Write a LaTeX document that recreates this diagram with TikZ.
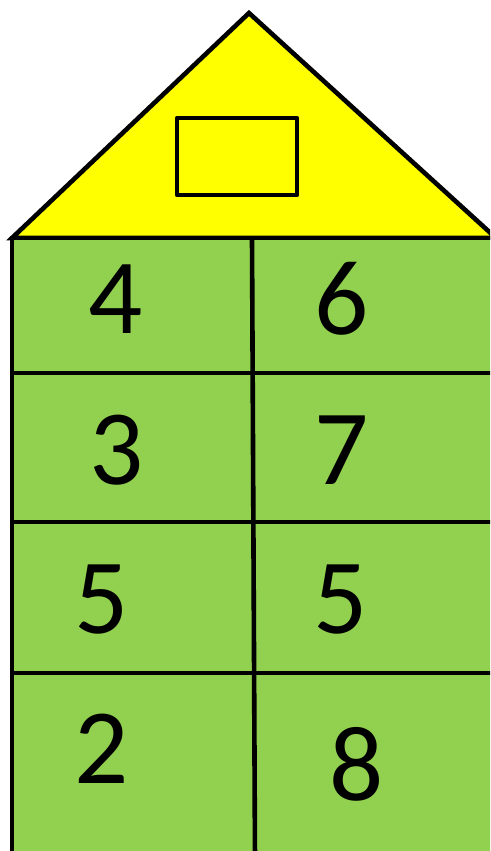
\documentclass[tikz,border=0pt]{standalone}
\usepackage{fontspec}
\setmainfont{Carlito}
\definecolor{wallgreen}{HTML}{92D050}
\definecolor{roofyellow}{HTML}{FFFF00}
\tikzset{
  line/.style={line width=4.6pt, draw=black},
  digit/.style={inner sep=0pt, font=\fontsize{107}{107}\selectfont},
}
\begin{document}
\begin{tikzpicture}[x=1pt,y=-1pt]
\useasboundingbox (0,0) rectangle (490,851);
\begin{scope}
\clip (0,0) rectangle (490,851);
% roof
\draw[line, fill=roofyellow, line join=miter] (249,13) -- (496,238) -- (12,238) -- cycle;
\draw[line, fill=roofyellow, line join=round] (177,118) rectangle (297,195);
% wall
\fill[wallgreen] (12,238) rectangle (500,860);
\draw[line] (12,238) -- (12,860);
\draw[line] (10,238) -- (500,238);
\draw[line] (12,373) -- (500,373);
\draw[line] (12,522) -- (500,522);
\draw[line] (12,673) -- (500,673);
\draw[line] (252,238) -- (255,860);
\end{scope}
% digits
\node[digit] (a1) at (116,299) {4};
\node[digit] (b1) at (342,299) {6};
\node[digit] (a2) at (117,450) {3};
\node[digit] (b2) at (342,450) {7};
\node[digit] (a3) at (102,600) {5};
\node[digit] (b3) at (341,600) {5};
\node[digit] (a4) at (102,749) {2};
\node[digit] (b4) at (357,764) {8};
\end{tikzpicture}
\end{document}
